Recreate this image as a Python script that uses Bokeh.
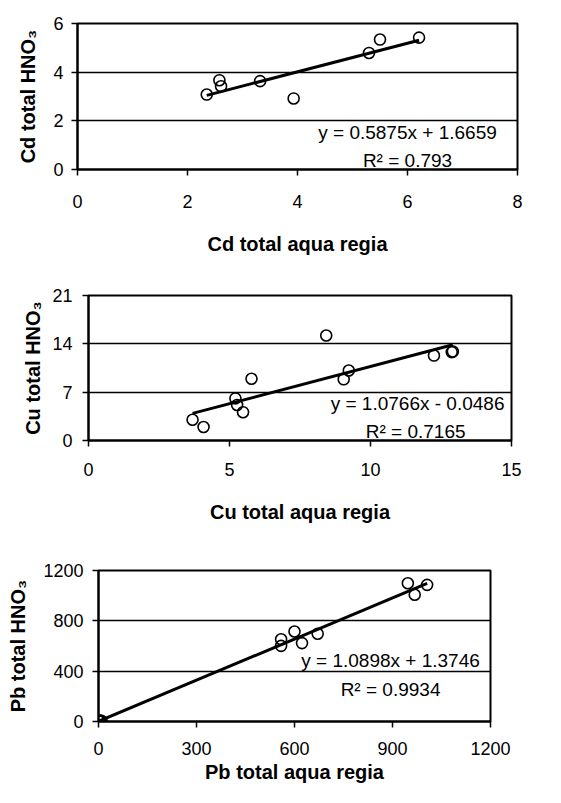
from bokeh.plotting import figure
from bokeh.models import FixedTicker, Range1d, Label
from bokeh.embed import file_html
from bokeh.resources import INLINE

# ---- data ----
cd_x = [2.35, 2.58, 2.61, 3.32, 3.93, 5.30, 5.50, 6.21]
cd_y = [3.08, 3.67, 3.42, 3.63, 2.92, 4.79, 5.34, 5.42]
cd_fit = [0.5875, 1.6659]

cu_x = [3.69, 4.08, 5.21, 5.27, 5.48, 5.78, 8.43, 9.05, 9.23, 12.25, 12.88, 12.92]
cu_y = [3.0, 1.95, 6.1, 5.14, 4.1, 8.95, 15.2, 8.86, 10.14, 12.3, 12.8, 12.9]
cu_fit = [1.0766, -0.0486]

pb_x = [1, 3, 5, 7, 9, 559, 559, 600, 623, 671, 947, 968, 1006]
pb_y = [2, 5, 1, 8, 4, 654, 601, 715, 623, 697, 1099, 1007, 1086]
pb_fit = [1.0898, 1.3746]

cd_xticks = [0, 2, 4, 6, 8]
cd_yticks = [0, 2, 4, 6]
cu_xticks = [0, 5, 10, 15]
cu_yticks = [0, 7, 14, 21]
pb_xticks = [0, 300, 600, 900, 1200]
pb_yticks = [0, 400, 800, 1200]

FONT = "Liberation Sans"


def panel(xs, ys, fit, xticks, yticks, xlabel, ylabel, eq, r2, eq_pos, r2_pos,
          height, borders, ystand, xstand):
    bl, br, bt, bb = borders
    p = figure(width=545, height=height,
               x_range=Range1d(xticks[0], xticks[-1]),
               y_range=Range1d(yticks[0], yticks[-1]),
               output_backend="svg", toolbar_location=None,
               min_border_left=bl, min_border_right=br,
               min_border_top=bt, min_border_bottom=bb)
    p.outline_line_color = "black"
    p.outline_line_width = 2
    p.outline_line_alpha = 1
    p.xgrid.visible = False
    p.ygrid.grid_line_color = "black"
    p.ygrid.grid_line_width = 1.5
    p.ygrid.grid_line_alpha = 1
    p.xaxis.ticker = FixedTicker(ticks=xticks)
    p.yaxis.ticker = FixedTicker(ticks=yticks)
    for ax in (p.xaxis, p.yaxis):
        ax.minor_tick_line_color = None
        ax.major_tick_in = 0
        ax.major_tick_out = 6
        ax.major_tick_line_color = "black"
        ax.major_tick_line_width = 1.5
        ax.axis_line_color = "black"
        ax.axis_line_width = 2
        ax.major_label_text_font = FONT
        ax.major_label_text_font_size = "18px"
        ax.major_label_text_color = "black"
        ax.axis_label_text_font = FONT
        ax.axis_label_text_font_size = "20px"
        ax.axis_label_text_font_style = "bold"
        ax.axis_label_text_color = "black"
    p.xaxis.axis_label = xlabel
    p.yaxis.axis_label = ylabel
    p.yaxis.major_label_standoff = ystand[0]
    p.yaxis.axis_label_standoff = ystand[1]
    p.xaxis.major_label_standoff = xstand[0]
    p.xaxis.axis_label_standoff = xstand[1]

    x0, x1 = min(xs), max(xs)
    p.line([x0, x1], [fit[0] * x0 + fit[1], fit[0] * x1 + fit[1]],
           line_color="black", line_width=3)
    p.scatter(xs, ys, marker="circle", size=11, fill_color=None,
              line_color="black", line_width=1.6)
    for txt, pos in ((eq, eq_pos), (r2, r2_pos)):
        p.add_layout(Label(x=pos[0], y=pos[1], text=txt, text_font=FONT,
                           text_font_size="19px", text_align="center",
                           text_baseline="middle", text_color="black"))
    return p


f1 = panel(cd_x, cd_y, cd_fit, cd_xticks, cd_yticks,
           "Cd total aqua regia", "Cd total HNO\u2083",
           "y = 0.5875x + 1.6659", "R\u00b2 = 0.793", (6.0, 1.52), (6.0, 0.37),
           258, (77, 28, 23, 89), (8, 11), (19, 22))
f2 = panel(cu_x, cu_y, cu_fit, cu_xticks, cu_yticks,
           "Cu total aqua regia", "Cu total HNO\u2083",
           "y = 1.0766x - 0.0486", "R\u00b2 = 0.7165", (11.67, 5.29), (11.6, 1.29),
           267, (88, 34, 37, 83), (10, 5), (16, 22))
f3 = panel(pb_x, pb_y, pb_fit, pb_xticks, pb_yticks,
           "Pb total aqua regia", "Pb total HNO\u2083",
           "y = 1.0898x + 1.3746", "R\u00b2 = 0.9934", (894, 485), (894, 254),
           262, (98, 55, 45, 66), (9, 11), (14, 3))

open("out.html", "w").write(file_html([f1, f2, f3], INLINE))
